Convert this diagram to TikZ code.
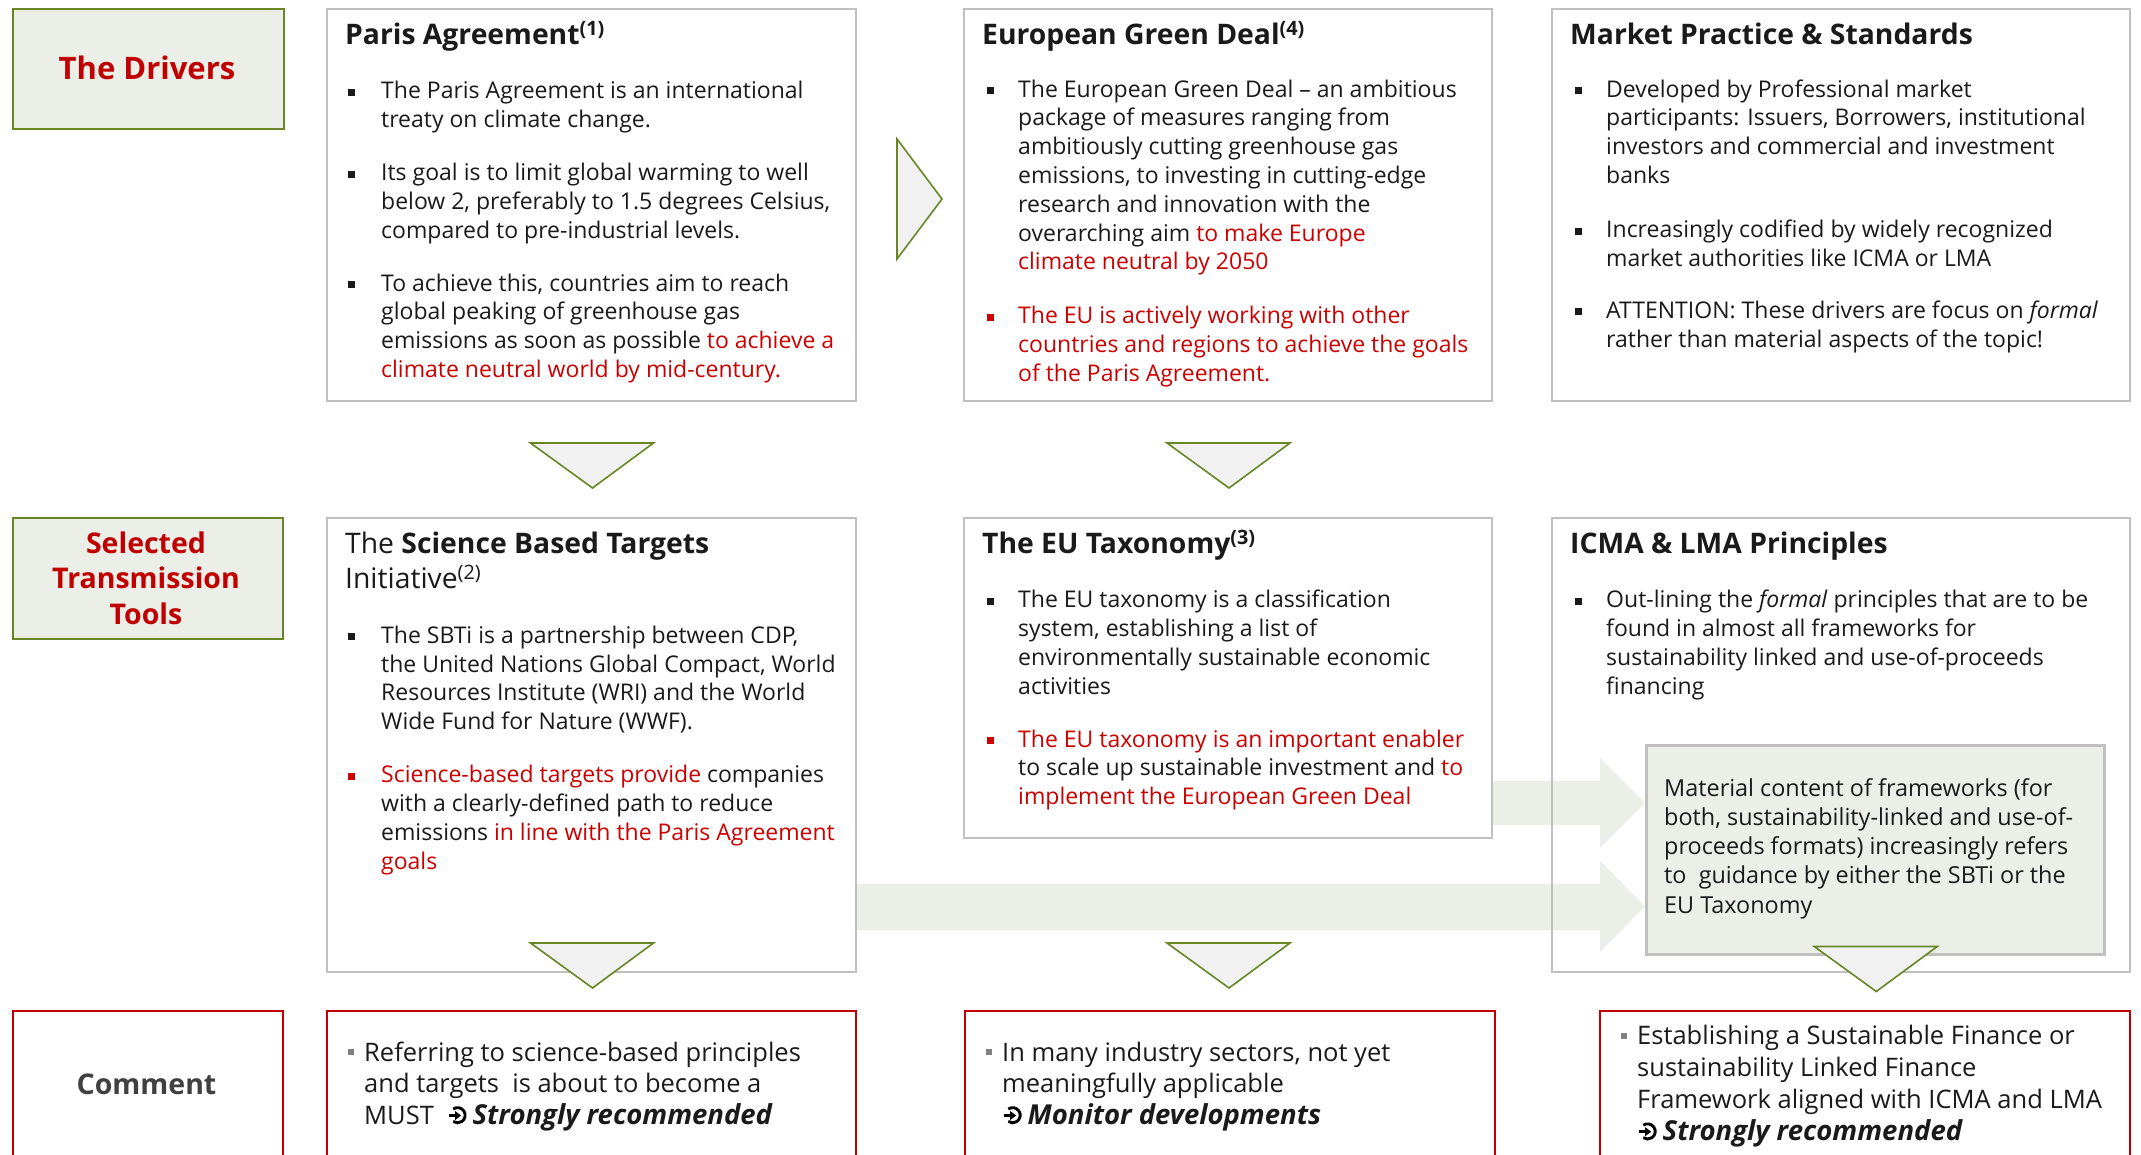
\documentclass[tikz,border=0pt]{standalone}
\usepackage{fontspec}
\setmainfont{Open Sans}
\usetikzlibrary{calc}

\definecolor{ink}{RGB}{26,26,26}
\definecolor{ired}{RGB}{204,0,0}
\definecolor{dred}{RGB}{192,0,0}
\definecolor{olv}{RGB}{104,134,36}
\definecolor{pale}{RGB}{236,239,231}
\definecolor{trif}{RGB}{241,241,241}
\definecolor{framegray}{RGB}{192,192,192}
\definecolor{cgray}{RGB}{64,64,64}
\definecolor{bgray}{RGB}{128,128,128}

\newcommand\fBody{\fontsize{23}{28.8}\selectfont}
\newcommand\fMat{\fontsize{23.4}{29.2}\selectfont}
\newcommand\fHead{\fontsize{28.3}{35}\selectfont}
\newcommand\fLab{\fontsize{28.5}{35.5}\selectfont\bfseries}
\newcommand\fCmt{\fontsize{25.5}{31.5}\selectfont}
\newcommand\redtxt[1]{\textcolor{ired}{#1}}
% emphasised verdict in the comment row
\newcommand\verdict[1]{{\fontsize{27.5}{31.5}\selectfont\bfseries\itshape #1}}
% stacked lines whose baseline is the first line
\newcommand\lines[1]{\begin{tabular}[t]{@{}l@{}}#1\end{tabular}}

% curved "go to" arrow used in the comment row
\newsavebox\goarrow
\sbox\goarrow{\tikz[baseline=0pt,line width=2.9pt]{%
  \draw (0pt,8.5pt) -- (7.5pt,8.5pt);
  \fill (12.5pt,8.5pt) -- (6.5pt,13pt) -- (6.5pt,4pt) -- cycle;
  \draw (4.6pt,15pt) arc[start angle=125,end angle=-125,radius=7.6pt];}}
\newcommand\go{\usebox\goarrow\hspace{5pt}}

\tikzset{
  card/.style={draw=framegray,line width=2pt,fill=white,anchor=north west,inner sep=0pt},
  lab/.style={draw=olv,line width=2.2pt,fill=pale,anchor=north west,inner sep=0pt},
  cmt/.style={draw=dred,line width=2pt,fill=white,anchor=north west,inner sep=0pt},
  matbox/.style={draw=framegray,line width=2.5pt,fill=pale,anchor=north west,inner sep=0pt},
  tri/.style={draw=olv,line width=1.6pt,fill=trif,line join=miter},
  band/.style={fill=pale,draw=none},
  txt/.style={anchor=base west,inner sep=0pt,text=ink,font=\fBody},
  head/.style={anchor=base west,inner sep=0pt,text=ink,font=\fHead},
  ctxt/.style={anchor=base west,inner sep=0pt,text=ink,font=\fCmt},
  sq/.style={rectangle,inner sep=0pt,minimum size=7pt,draw=none,fill=ink},
  gsq/.style={rectangle,inner sep=0pt,minimum size=6pt,draw=none,fill=bgray},
}

\begin{document}
\begin{tikzpicture}[x=1pt,y=-1pt]
\useasboundingbox (0,0) rectangle (2141,1154);
\clip (0,0) rectangle (2141,1154);
\fill[white] (0,0) rectangle (2141,1154);

% ---- wide pale arrows feeding the framework box
\fill[band] (1491,781) -- (1600,781) -- (1600,758) -- (1645,803) -- (1600,848) -- (1600,825) -- (1491,825) -- cycle;
\fill[band] (855,884) -- (1600,884) -- (1600,861) -- (1645,906.5) -- (1600,952) -- (1600,930) -- (855,930) -- cycle;

% ---- row labels
\node[lab,minimum width=271pt,minimum height=120pt] (drv) at (12,8) {};
\node[lab,minimum width=270pt,minimum height=121pt] (stt) at (12,517) {};
\node[cmt,minimum width=270pt,minimum height=200pt] (cml) at (12,1010) {};
\node[font=\fLab\fontsize{31}{36}\selectfont,text=dred] (drvT) at (147,68) {The Drivers};
\node[font=\fLab,text=dred,align=center] (sttT) at (146,578) {Selected\\Transmission\\Tools};
\node[font=\fLab,text=cgray] (cmlT) at (146.5,1084) {Comment};

% ---- content boxes
\node[card,minimum width=529pt,minimum height=392pt] (paris) at (326,8) {};
\node[card,minimum width=528pt,minimum height=392pt] (egd) at (963,8) {};
\node[card,minimum width=578pt,minimum height=392pt] (mkt) at (1551,8) {};
\node[card,minimum width=529pt,minimum height=454pt] (sbti) at (326,517) {};
\node[card,minimum width=528pt,minimum height=320pt] (tax) at (963,517) {};
\node[card,fill=none,minimum width=578pt,minimum height=454pt] (icma) at (1551,517) {};
\node[matbox,minimum width=458pt,minimum height=209pt] (mat) at (1645,744) {};
\node[cmt,minimum width=529pt,minimum height=200pt] (c1) at (326,1010) {};
\node[cmt,minimum width=530pt,minimum height=200pt] (c2) at (964,1010) {};
\node[cmt,minimum width=530pt,minimum height=200pt] (c3) at (1599,1010) {};

% ---- flow triangles
\draw[tri] (897,139) -- (942,199) -- (897,259) -- cycle;
\draw[tri] ($(paris.south)+(-61,41)$) -- ++(123,0) -- ($(paris.south)+(1,86)$) -- cycle;
\draw[tri] ($(egd.south)+(-61,41)$) -- ++(123,0) -- ($(egd.south)+(1,86)$) -- cycle;
\draw[tri] ($(sbti.south)+(-61,-30)$) -- ++(123,0) -- ($(sbti.south)+(1,15)$) -- cycle;
\draw[tri] ($(tax.south)+(-61,104)$) -- ++(123,0) -- ($(tax.south)+(1,149)$) -- cycle;
\draw[tri] ($(mat.south)+(-61,-9)$) -- ++(123,0) -- ($(mat.south)+(1,36)$) -- cycle;

% ---- Paris Agreement
\node[head] (parisT) at (345,44.5) {\bfseries Paris Agreement\textsuperscript{(1)}};
\node[sq] (pb1s) at (351,92) {};
\node[txt] (pb1) at (381,98.5) {\lines{The Paris Agreement is an international\\treaty on climate change.}};
\node[sq] (pb2s) at (351,174) {};
\node[txt] (pb2) at (381,180.4) {\lines{Its goal is to limit global warming to well\\below 2, preferably to 1.5 degrees Celsius,\\compared to pre-industrial levels.}};
\node[sq] (pb3s) at (351,284.5) {};
\node[txt] (pb3) at (381,291) {\lines{To achieve this, countries aim to reach\\global peaking of greenhouse gas\\emissions as soon as possible \redtxt{to achieve a}\\\redtxt{climate neutral world by mid-century.}}};

% ---- European Green Deal
\node[head] (egdT) at (982,44.5) {\bfseries European Green Deal\textsuperscript{(4)}};
\node[sq] (eb1s) at (990,90.6) {};
\node[txt] (eb1) at (1018,97.1) {\lines{The European Green Deal -- an ambitious\\package of measures ranging from\\ambitiously cutting greenhouse gas\\emissions, to investing in cutting-edge\\research and innovation with the\\overarching aim \redtxt{to make Europe}\\\redtxt{climate neutral by 2050}}};
\node[sq,fill=ired] (eb2s) at (990,317.3) {};
\node[txt,text=ired] (eb2) at (1018,323.8) {\lines{The EU is actively working with other\\countries and regions to achieve the goals\\of the Paris Agreement.}};

% ---- Market Practice & Standards
\node[head] (mktT) at (1570,44.5) {\bfseries Market Practice \& Standards};
\node[sq] (mb1s) at (1578,90.6) {};
\node[txt] (mb1) at (1606,97.1) {\lines{Developed by Professional market\\participants: Issuers, Borrowers, institutional\\investors and commercial and investment\\banks}};
\node[sq] (mb2s) at (1578,231.3) {};
\node[txt] (mb2) at (1606,237.8) {\lines{Increasingly codified by widely recognized\\market authorities like ICMA or LMA}};
\node[sq] (mb3s) at (1578,311.8) {};
\node[txt] (mb3) at (1606,318.3) {\lines{ATTENTION: These drivers are focus on \textit{formal}\\rather than material aspects of the topic!}};

% ---- Science Based Targets initiative
\node[head] (sbtiT) at (345,553.8) {\lines{The \textbf{Science Based Targets}\\Initiative\textsuperscript{(2)}}};
\node[sq] (sb1s) at (351,636.8) {};
\node[txt] (sb1) at (381,643.3) {\lines{The SBTi is a partnership between CDP,\\the United Nations Global Compact, World\\Resources Institute (WRI) and the World\\Wide Fund for Nature (WWF).}};
\node[sq,fill=ired] (sb2s) at (351,776.1) {};
\node[txt] (sb2) at (381,782.6) {\lines{\redtxt{Science-based targets provide} companies\\with a clearly-defined path to reduce\\emissions \redtxt{in line with the Paris Agreement}\\\redtxt{goals}}};

% ---- EU Taxonomy
\node[head] (taxT) at (982,553.8) {\bfseries The EU Taxonomy\textsuperscript{(3)}};
\node[sq] (tb1s) at (990,601.3) {};
\node[txt] (tb1) at (1018,607.8) {\lines{The EU taxonomy is a classification\\system, establishing a list of\\environmentally sustainable economic\\activities}};
\node[sq,fill=ired] (tb2s) at (990,740.5) {};
\node[txt] (tb2) at (1018,747) {\lines{\redtxt{The EU taxonomy is an important enabler}\\to scale up sustainable investment and \redtxt{to}\\\redtxt{implement the European Green Deal}}};

% ---- ICMA & LMA Principles
\node[head] (icmaT) at (1570,553.8) {\bfseries ICMA \& LMA Principles};
\node[sq] (ib1s) at (1578,601.3) {};
\node[txt] (ib1) at (1606,607.8) {\lines{Out-lining the \textit{formal} principles that are to be\\found in almost all frameworks for\\sustainability linked and use-of-proceeds\\financing}};
\node[txt,font=\fMat] (matT) at (1664,796.2) {\lines{Material content of frameworks (for\\both, sustainability-linked and use-of-\\proceeds formats) increasingly refers\\to~ guidance by either the SBTi or the\\EU Taxonomy}};

% ---- comments
\node[gsq] (c1s) at (351,1052) {};
\node[ctxt] (c1t) at (364,1061) {\lines{Referring to science-based principles\\and targets~ is about to become a\\MUST~ \go\verdict{Strongly recommended}}};
\node[gsq] (c2s) at (989,1052) {};
\node[ctxt] (c2t) at (1002,1061) {\lines{In many industry sectors, not yet\\meaningfully applicable\\\go\verdict{Monitor developments}}};
\node[gsq] (c3s) at (1624,1035.5) {};
\node[ctxt,font=\fontsize{25.5}{31.9}\selectfont] (c3t) at (1637,1044.5) {\lines{Establishing a Sustainable Finance or\\sustainability Linked Finance\\Framework aligned with ICMA and LMA\\\go\verdict{Strongly recommended}}};
\end{tikzpicture}
\end{document}
